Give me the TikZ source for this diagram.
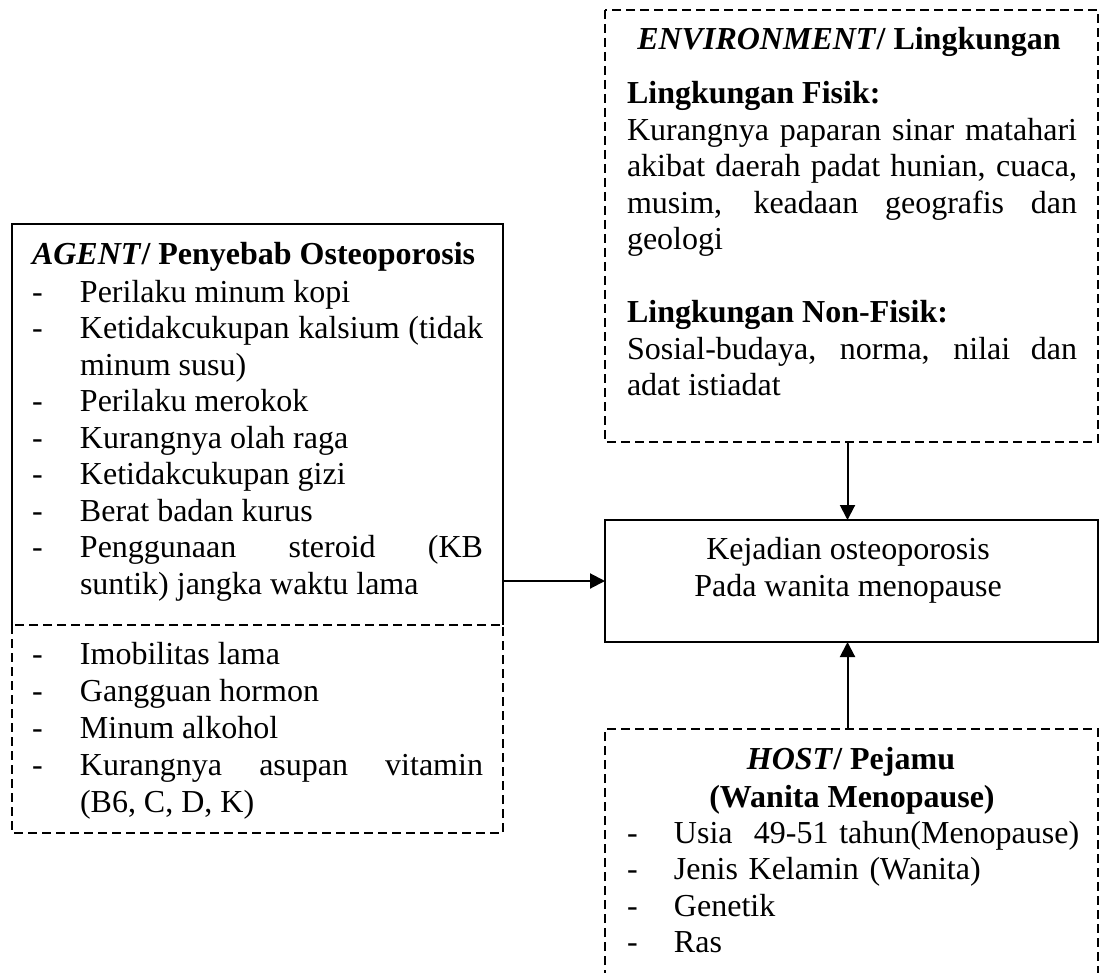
\documentclass[tikz,border=0pt]{standalone}
\usepackage{fontspec}
\setmainfont{Liberation Serif}
\usetikzlibrary{arrows.meta}
\newcommand\itm[2][48pt]{\noindent\hangindent=#1\hangafter=1\makebox[#1][l]{-}#2\par}
\hyphenpenalty=10000
\exhyphenpenalty=10000
\begin{document}
\begin{tikzpicture}[x=1pt,y=-1pt,
  boxline/.style={line width=2pt},
  dashline/.style={line width=2pt, dash pattern=on 9pt off 5pt},
  frame/.style={rectangle, inner sep=0pt, outer sep=0pt},
  txt/.style={inner sep=0pt, outer sep=0pt, font=\fontsize{32}{36.5}\selectfont},
  arr/.style={line width=2pt, -{Triangle[length=15pt,width=15pt]}}]
\useasboundingbox (0,0) rectangle (1099,973);
\clip (0,0) rectangle (1099,973);
% frames
\node[frame, minimum width=491pt, minimum height=401pt] (agent) at (257.5,424.5) {};
\node[frame, minimum width=491pt, minimum height=208pt] (agentx) at (257.5,729) {};
\node[frame, minimum width=493pt, minimum height=432pt] (env) at (851.5,226) {};
\node[frame, minimum width=493pt, minimum height=122pt] (center) at (851.5,581) {};
\node[frame, minimum width=493pt, minimum height=250pt] (host) at (851.5,854) {};
\draw[boxline] (agent.south west) -- (agent.north west) -- (agent.north east) -- (agent.south east);
\draw[dashline] (agentx.north west) rectangle (agentx.south east);
\draw[dashline] (env.north west) rectangle (env.south east);
\draw[boxline] (center.north west) rectangle (center.south east);
\draw[dashline] (host.south west) -- (host.north west) -- (host.north east) -- (host.south east);
% texts
\node[txt, anchor=base west] (agtitle) at (32,265) {\textbf{\textit{AGENT}/ Penyebab Osteoporosis}};
\node[txt, anchor=base west, text width=451pt, align=justify] (aglist) at (32,302) {%
\itm{Perilaku minum kopi}%
\itm{Ketidakcukupan kalsium (tidak\linebreak minum susu)}%
\itm{Perilaku merokok}%
\itm{Kurangnya olah raga}%
\itm{Ketidakcukupan gizi}%
\itm{Berat badan kurus}%
\itm{Penggunaan steroid (KB\linebreak suntik) jangka waktu lama}};
\node[txt, anchor=base west, text width=451pt, align=justify,
  font=\fontsize{32}{37}\selectfont] (agxlist) at (32,664) {%
\itm{Imobilitas lama}%
\itm{Gangguan hormon}%
\itm{Minum alkohol}%
\itm{Kurangnya asupan vitamin\linebreak (B6, C, D, K)}};
\node[txt, anchor=base] (envtitle) at (849,50) {\textbf{\textit{ENVIRONMENT}/ Lingkungan}};
\node[txt, anchor=base west, text width=450pt, align=justify] (envtext) at (627,104) {%
\textbf{Lingkungan Fisik:}\par
Kurangnya paparan sinar matahari\linebreak akibat daerah padat hunian, cuaca,\linebreak musim, keadaan geografis dan\linebreak geologi\par
\mbox{}\par
\textbf{Lingkungan Non-Fisik:}\par
Sosial-budaya, norma, nilai dan\linebreak adat istiadat\par};
\node[txt, anchor=base, align=center] (ctext) at (848,596) {Kejadian osteoporosis\\Pada wanita menopause};
\node[txt, anchor=base] (hosttitle) at (851,769) {\textbf{\textit{HOST}/ Pejamu}};
\node[txt, anchor=base] (hostsub) at (852,807) {\textbf{(Wanita Menopause)}};
\node[txt, anchor=base west, text width=460pt, align=left] (hostlist) at (627,843) {%
\itm[47pt]{Usia\ \ 49-51 tahun(Menopause)}%
\itm[47pt]{Jenis Kelamin (Wanita)}%
\itm[47pt]{Genetik}%
\itm[47pt]{Ras}};
% connectors
\draw[arr] (center.west -| agent.east) -- (center.west);
\draw[arr] ([xshift=-4pt]env.south) -- ([xshift=-4pt]center.north);
\draw[arr] ([xshift=-4pt]host.north) -- ([xshift=-4pt]center.south);
\end{tikzpicture}
\end{document}
